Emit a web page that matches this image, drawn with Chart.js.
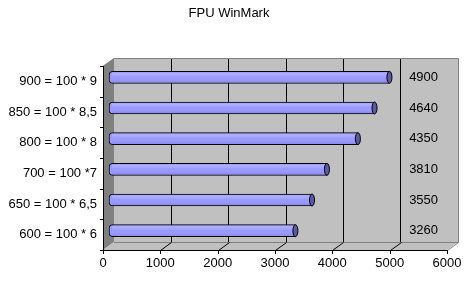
<!DOCTYPE html>
<html lang="en">
<head>
<meta charset="UTF-8">
<title>FPU WinMark</title>
<script src="https://cdn.jsdelivr.net/npm/chart.js@4.4.1/dist/chart.umd.min.js"></script>
<style>
  html, body { margin: 0; padding: 0; background: #fff; }
  #wrap { position: relative; width: 474px; height: 289px; }
</style>
</head>
<body>
<div id="wrap"><canvas id="fpuChart"></canvas></div>
<script>
// Data
const categories = ['900 = 100 * 9', '850 = 100 * 8,5', '800 = 100 * 8', '700 = 100 *7', '650 = 100 * 6,5', '600 = 100 * 6'];
const winmarkScores = [4900, 4640, 4350, 3810, 3550, 3260];
const axisMin = 0;
const axisMax = 6000;
const axisStep = 1000;
const valueColumnAt = 5400;

// depth of the fake 3D box (back wall is up/right of the front edge)
const DX = 11, DY = 8;
const FONT = { family: '"Liberation Sans", Arial, sans-serif', size: 13 };

const excel3d = {
    id: 'excel3d',
    beforeDraw(chart) {
        const { ctx, chartArea: a } = chart;
        ctx.save();
        // back wall
        ctx.fillStyle = '#c0c0c0';
        ctx.fillRect(a.left, a.top, a.right - a.left, a.bottom - a.top);
        // left side wall
        ctx.fillStyle = '#808080';
        ctx.beginPath();
        ctx.moveTo(a.left, a.top);
        ctx.lineTo(a.left, a.bottom);
        ctx.lineTo(a.left - DX, a.bottom + DY);
        ctx.lineTo(a.left - DX, a.top + DY);
        ctx.closePath();
        ctx.fill();
        // floor
        ctx.fillStyle = '#c0c0c0';
        ctx.beginPath();
        ctx.moveTo(a.left, a.bottom);
        ctx.lineTo(a.right, a.bottom);
        ctx.lineTo(a.right - DX, a.bottom + DY);
        ctx.lineTo(a.left - DX, a.bottom + DY);
        ctx.closePath();
        ctx.fill();
        ctx.restore();
    },
    beforeDatasetsDraw(chart) {
        const { ctx, chartArea: a, scales } = chart;
        ctx.save();
        ctx.lineWidth = 1;
        // gray edges of the box
        ctx.strokeStyle = '#808080';
        ctx.beginPath();
        ctx.moveTo(a.left - DX + 0.5, a.top + DY);
        ctx.lineTo(a.left + 0.5, a.top + 0.5);
        ctx.lineTo(a.right + 0.5, a.top + 0.5);
        ctx.lineTo(a.right + 0.5, a.bottom + 0.5);
        ctx.lineTo(a.right - DX + 0.5, a.bottom + DY + 0.5);
        ctx.moveTo(a.left, a.bottom + 0.5);
        ctx.lineTo(a.right, a.bottom + 0.5);
        ctx.stroke();
        // floor diagonals and front tick marks
        ctx.strokeStyle = '#000';
        ctx.beginPath();
        scales.x.ticks.forEach(t => {
            const x = Math.round(scales.x.getPixelForValue(t.value));
            if (t.value > axisMin && t.value < axisMax) {
                ctx.moveTo(x - DX + 0.5, a.bottom + DY + 0.5);
                ctx.lineTo(x + 0.5, a.bottom + 0.5);
            }
            ctx.moveTo(x - DX + 0.5, a.bottom + DY);
            ctx.lineTo(x - DX + 0.5, a.bottom + DY + 4);
        });
        // front axes
        ctx.moveTo(a.left - DX + 0.5, a.top + DY);
        ctx.lineTo(a.left - DX + 0.5, a.bottom + DY + 0.5);
        ctx.lineTo(a.right - DX + 0.5, a.bottom + DY + 0.5);
        // category ticks on the front edge
        const step = (a.bottom - a.top) / categories.length;
        for (let k = 0; k <= categories.length; k++) {
            const y = Math.round(a.top + DY + k * step) + 0.5;
            ctx.moveTo(a.left - DX - 3, y);
            ctx.lineTo(a.left - DX + 0.5, y);
        }
        ctx.stroke();
        ctx.restore();

        // bars sit half way into the box
        ctx.save();
        ctx.translate(-DX / 2, DY / 2);
    },
    afterDatasetsDraw(chart) {
        const { ctx, scales } = chart;
        const meta = chart.getDatasetMeta(0);
        meta.data.forEach(bar => {
            const top = bar.y - bar.height / 2;
            const left = bar.base;
            const w = bar.x - bar.base;
            // cylinder shading
            const g = ctx.createLinearGradient(0, top, 0, top + bar.height);
            g.addColorStop(0, 'rgba(255,255,255,0)');
            g.addColorStop(0.2, 'rgba(255,255,255,0.22)');
            g.addColorStop(0.5, 'rgba(255,255,255,0)');
            g.addColorStop(1, 'rgba(0,0,80,0.18)');
            ctx.fillStyle = g;
            ctx.fillRect(left + 3, top + 1, w - 3, bar.height - 2);
            // end cap
            ctx.beginPath();
            ctx.ellipse(bar.x, bar.y, 2.5, bar.height / 2, 0, 0, Math.PI * 2);
            ctx.fillStyle = '#5a5aa8';
            ctx.fill();
            ctx.strokeStyle = '#000';
            ctx.lineWidth = 1;
            ctx.stroke();
        });
        ctx.restore();

        // value column on the right
        ctx.save();
        ctx.font = FONT.size + 'px ' + FONT.family;
        ctx.fillStyle = '#000';
        ctx.textAlign = 'center';
        ctx.textBaseline = 'middle';
        const vx = scales.x.getPixelForValue(valueColumnAt);
        meta.data.forEach((bar, i) => {
            ctx.fillText(String(winmarkScores[i]), vx, bar.y + DY / 2);
        });
        ctx.restore();
    }
};

new Chart(document.getElementById('fpuChart'), {
    type: 'bar',
    data: {
        labels: categories,
        datasets: [{
            data: winmarkScores,
            backgroundColor: '#9999ff',
            borderColor: '#000',
            borderWidth: 1,
            borderSkipped: false,
            borderRadius: { topLeft: 4, bottomLeft: 4, topRight: 0, bottomRight: 0 },
            barThickness: 12
        }]
    },
    options: {
        indexAxis: 'y',
        responsive: true,
        maintainAspectRatio: false,
        animation: false,
        layout: { padding: { left: 0, right: 16, top: 0, bottom: 0 } },
        plugins: {
            legend: { display: false },
            tooltip: { enabled: false },
            title: {
                display: true,
                text: 'FPU WinMark',
                color: '#000',
                font: { family: FONT.family, size: 13, weight: 'normal', lineHeight: 1.2 },
                padding: { top: 6, bottom: 36.4 }
            }
        },
        scales: {
            x: {
                type: 'linear',
                position: 'bottom',
                min: axisMin,
                max: axisMax,
                afterFit: s => {
                    s.height = 47;
                    s.paddingLeft = 0;
                    s.paddingRight = 0;
                },
                ticks: {
                    stepSize: axisStep,
                    color: '#000',
                    font: FONT,
                    padding: 14,
                    labelOffset: -DX,
                    maxRotation: 0,
                    callback: v => String(v)
                },
                grid: {
                    drawTicks: false,
                    lineWidth: 1,
                    color: c => (c.tick && c.tick.value > axisMin && c.tick.value < axisMax) ? '#000' : 'rgba(0,0,0,0)'
                },
                border: { display: false }
            },
            y: {
                type: 'category',
                afterFit: s => { s.width = 114; },
                ticks: {
                    color: '#000',
                    font: FONT,
                    padding: 17,
                    labelOffset: DY
                },
                grid: { display: false, drawTicks: false },
                border: { display: false }
            }
        }
    },
    plugins: [excel3d]
});
</script>
</body>
</html>
